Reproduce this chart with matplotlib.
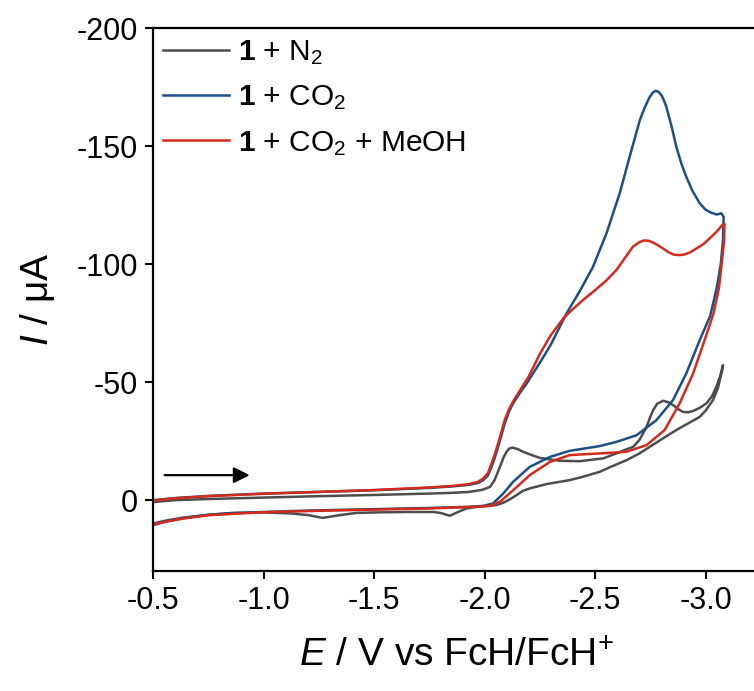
import matplotlib
matplotlib.use("Agg")
import matplotlib.pyplot as plt

plt.rcParams['font.family'] = ['Liberation Sans', 'DejaVu Sans']
plt.rcParams['mathtext.fontset'] = 'custom'
plt.rcParams['mathtext.rm'] = 'Liberation Sans'
plt.rcParams['mathtext.it'] = 'Liberation Sans:italic'
plt.rcParams['mathtext.bf'] = 'Liberation Sans:bold'
plt.rcParams['axes.unicode_minus'] = False

# ---- data: 1 + N2 (forward scan then return scan) ----
n2_E = [-0.50, -0.60, -0.75, -1.00, -1.25, -1.50, -1.75, -1.85, -1.93, -1.99, -2.024,
        -2.045, -2.069, -2.085, -2.099, -2.112, -2.126, -2.15, -2.174, -2.21, -2.25,
        -2.30, -2.34, -2.43, -2.536, -2.596, -2.64, -2.672, -2.70, -2.715, -2.732,
        -2.748, -2.762, -2.78, -2.807, -2.83, -2.852, -2.875, -2.897, -2.92, -2.943,
        -2.975, -3.003, -3.028, -3.048, -3.065, -3.078,
        -3.075, -3.071, -3.055, -3.033, -3.00, -2.973, -2.92, -2.867, -2.80, -2.747,
        -2.70, -2.641, -2.58, -2.52, -2.44, -2.385, -2.28, -2.204, -2.17, -2.144,
        -2.115, -2.084, -2.055, -2.024, -1.96, -1.918, -1.88, -1.843, -1.80, -1.767,
        -1.65, -1.50, -1.42, -1.34, -1.268, -1.20, -1.12, -1.00, -0.86, -0.75, -0.636,
        -0.56, -0.50]
n2_I = [0.8, 0.0, -0.5, -1.1, -1.7, -2.2, -2.8, -3.1, -3.5, -4.4, -5.6,
        -8.5, -14.1, -18.0, -20.5, -21.9, -22.3, -21.6, -20.5, -19.2, -17.9,
        -17.2, -16.7, -16.5, -17.7, -19.8, -21.5, -22.6, -25.5, -28.0, -31.0,
        -35.0, -38.1, -40.8, -42.1, -41.5, -40.3, -38.6, -37.4, -37.2, -37.8,
        -39.2, -41.0, -44.0, -48.0, -52.5, -57.2,
        -55.0, -53.7, -47.5, -42.4, -38.0, -35.3, -32.5, -29.7, -25.8, -22.6,
        -19.8, -16.9, -14.5, -12.0, -9.8, -8.5, -6.8, -5.0, -3.8, -2.1,
        -0.4, 1.1, 2.0, 2.4, 2.9, 3.5, 5.0, 6.6, 5.4, 5.0,
        5.0, 5.2, 5.4, 6.4, 7.5, 6.3, 5.6, 5.2, 5.4, 6.2, 7.4,
        8.6, 9.9]

# ---- data: 1 + CO2 ----
co2_E = [-0.50, -0.60, -0.75, -1.00, -1.25, -1.50, -1.75, -1.85, -1.93, -1.97, -1.994,
         -2.015, -2.031, -2.046, -2.061, -2.076, -2.091, -2.11, -2.129, -2.16, -2.19,
         -2.257, -2.30, -2.37, -2.43, -2.49, -2.551, -2.611, -2.656, -2.702, -2.725,
         -2.745, -2.76, -2.773, -2.786, -2.80, -2.811, -2.822, -2.845, -2.867, -2.89,
         -2.912, -2.94, -2.973, -3.00, -3.026, -3.05, -3.071, -3.081,
         -3.078, -3.068, -3.05, -3.02, -2.973, -2.912, -2.852, -2.777, -2.687, -2.596,
         -2.52, -2.385, -2.295, -2.204, -2.129, -2.084, -2.038, -1.994, -1.93, -1.75,
         -1.50, -1.25, -1.09, -0.86, -0.75, -0.636, -0.56, -0.50]
co2_I = [0.0, -0.9, -1.8, -2.8, -3.5, -4.2, -5.2, -5.8, -6.5, -7.3, -8.5,
         -10.5, -14.1, -18.0, -22.6, -27.5, -32.5, -37.5, -41.0, -45.5, -49.4,
         -59.3, -66.0, -79.0, -88.5, -98.8, -113.0, -130.0, -145.5, -161.0, -166.5,
         -170.5, -172.6, -173.4, -173.0, -171.5, -169.3, -166.6, -158.5, -149.7, -142.5,
         -137.0, -131.0, -125.7, -123.0, -121.7, -121.0, -121.5, -120.0,
         -110.0, -100.0, -90.0, -78.0, -67.8, -53.7, -42.4, -33.9, -27.5, -24.7,
         -22.9, -20.9, -18.3, -14.1, -7.8, -2.8, 1.4, 2.4, 2.8, 3.3,
         3.8, 4.3, 4.7, 5.5, 6.2, 7.6, 9.0, 10.6]

# ---- data: 1 + CO2 + MeOH ----
meoh_E = [-0.50, -0.60, -0.75, -1.00, -1.25, -1.50, -1.75, -1.85, -1.93, -1.97, -1.994,
          -2.015, -2.031, -2.046, -2.061, -2.076, -2.091, -2.11, -2.13, -2.16, -2.20,
          -2.25, -2.30, -2.36, -2.40, -2.444, -2.50, -2.55, -2.596, -2.63, -2.67,
          -2.70, -2.72, -2.739, -2.76, -2.785, -2.807, -2.83, -2.855, -2.882, -2.905,
          -2.93, -2.958, -2.99, -3.018, -3.05, -3.075, -3.085,
          -3.083, -3.072, -3.06, -3.035, -2.995, -2.943, -2.882, -2.814, -2.732, -2.641,
          -2.52, -2.385, -2.295, -2.204, -2.129, -2.069, -2.024, -1.93, -1.75, -1.50,
          -1.25, -1.00, -0.86, -0.75, -0.636, -0.56, -0.50]
meoh_I = [0.2, -0.8, -1.7, -2.7, -3.5, -4.3, -5.4, -6.0, -6.8, -7.8, -9.2,
          -11.5, -15.5, -19.5, -24.0, -29.0, -34.0, -38.5, -42.0, -46.5, -52.5,
          -62.0, -70.0, -77.5, -81.0, -84.7, -89.0, -93.0, -97.5, -102.0, -107.3,
          -109.3, -110.0, -109.9, -109.2, -107.9, -106.6, -105.1, -104.0, -103.8, -104.1,
          -105.0, -106.6, -108.5, -110.9, -113.8, -116.5, -117.0,
          -110.0, -100.0, -90.0, -79.0, -67.8, -53.7, -41.0, -29.7, -23.3, -20.5,
          -19.8, -19.1, -16.2, -10.6, -4.2, 0.7, 2.4, 2.9, 3.5, 4.0,
          4.5, 5.1, 5.8, 6.4, 7.8, 9.1, 10.3]

labels = [r'$\mathbf{1}$ + N$_2$', r'$\mathbf{1}$ + CO$_2$', r'$\mathbf{1}$ + CO$_2$ + MeOH']
colors = ['#4d4d4d', '#1c4f86', '#d42a1c']
xticks = [-0.5, -1.0, -1.5, -2.0, -2.5, -3.0]
yticks = [-200, -150, -100, -50, 0]

fig = plt.figure(figsize=(7.54, 6.91), dpi=100)
ax = fig.add_axes([153/754, 120/691, 608/754, 543/691])

for E, I, lab, c in zip([n2_E, co2_E, meoh_E], [n2_I, co2_I, meoh_I], labels, colors):
    ax.plot(E, I, color=c, lw=1.8, label=lab, solid_joinstyle='round')

ax.set_xlim(-0.5, -3.25)
ax.set_ylim(30, -200)
ax.set_xticks(xticks)
ax.set_xticklabels([f'{v:.1f}' for v in xticks])
ax.set_yticks(yticks)
ax.set_yticklabels([f'{v:d}' for v in yticks])

for s in ['left', 'bottom', 'top']:
    ax.spines[s].set_linewidth(1.6)
ax.spines['right'].set_visible(False)
ax.tick_params(direction='out', length=6, width=1.5, labelsize=22, pad=5)

ax.set_xlabel(r'$\mathit{E}$ / V vs FcH/FcH$^{+}$', fontsize=28, labelpad=16)
ax.set_ylabel(r'$\mathit{I}$ / μA', fontsize=28, labelpad=14)

ax.annotate('', xy=(-0.95, -10.6), xytext=(-0.54, -10.6),
            arrowprops=dict(arrowstyle='-|>', color='black', lw=1.6, mutation_scale=24))

leg = ax.legend(loc='upper left', frameon=False, fontsize=21.5, handlelength=2.2,
                handletextpad=0.3, labelspacing=0.55, borderaxespad=0.1,
                borderpad=0.25)

fig.savefig('out.png', dpi=100)
